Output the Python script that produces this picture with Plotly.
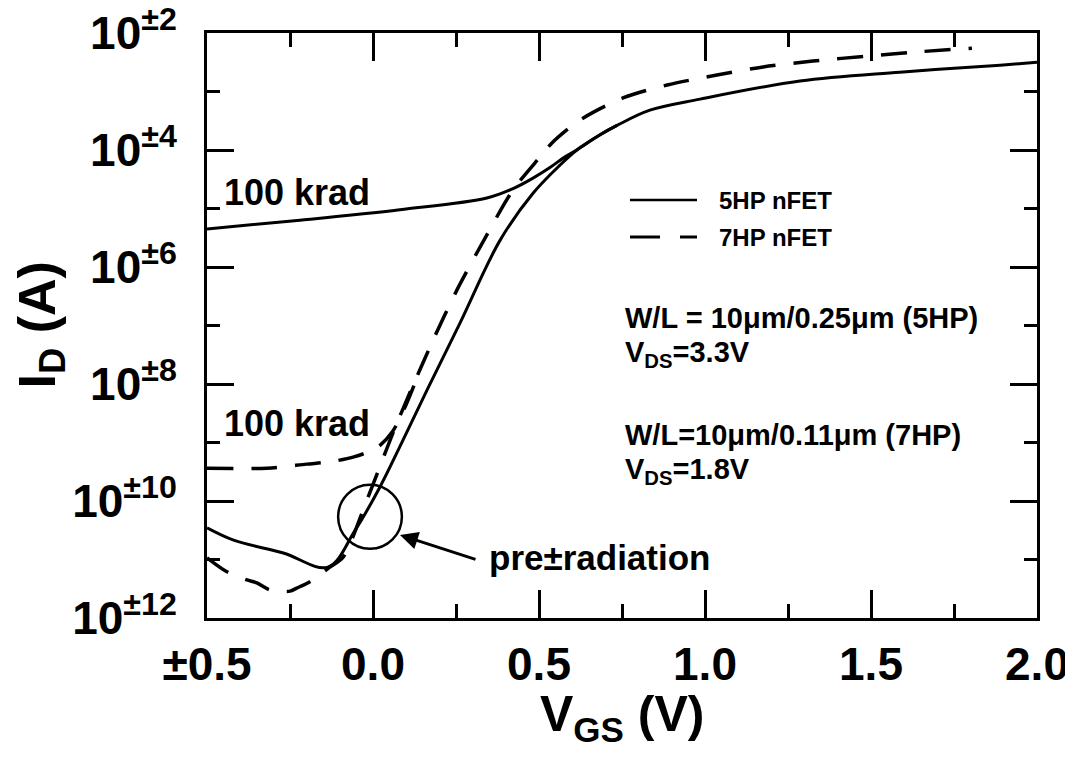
import plotly.graph_objects as go

# ---------------- data ----------------
# 5HP nFET, pre-radiation (solid)
v_5hp_pre = [-0.50, -0.42, -0.27, -0.136, -0.054, 0.021, 0.086, 0.163, 0.262, 0.383,
             0.482, 0.563, 0.614, 0.684, 0.735, 0.834, 0.985, 1.286, 1.587, 1.889, 2.0]
i_5hp_pre = [3.47e-11, 2.14e-11, 1.29e-11, 7.41e-12, 3.16e-11, 1.74e-10, 9.77e-10, 7.94e-9,
             1.10e-7, 2.88e-6, 1.82e-5, 5.50e-5, 1.0e-4, 1.82e-4, 2.63e-4, 4.79e-4, 7.41e-4,
             1.51e-3, 2.14e-3, 2.82e-3, 3.16e-3]

# 5HP nFET, 100 krad (solid)
v_5hp_100k = [-0.50, -0.22, 0.081, 0.343, 0.422, 0.482, 0.533, 0.575, 0.614, 0.684, 0.735]
i_5hp_100k = [4.47e-6, 6.31e-6, 9.55e-6, 1.51e-5, 2.19e-5, 3.31e-5, 5.01e-5, 7.41e-5,
              1.0e-4, 1.82e-4, 2.63e-4]

# 7HP nFET, pre-radiation (dashed)
v_7hp_pre = [-0.50, -0.44, -0.38, -0.35, -0.31, -0.25, -0.23, -0.19, -0.13, -0.09, -0.018,
             0.060, 0.111, 0.181, 0.253, 0.343, 0.422, 0.503, 0.539, 0.623, 0.753, 0.886,
             1.036, 1.175, 1.325, 1.497, 1.648, 1.804]
i_7hp_pre = [1.07e-11, 6.17e-12, 4.47e-12, 3.98e-12, 3.02e-12, 2.88e-12, 3.24e-12, 4.17e-12,
             7.41e-12, 1.10e-11, 1.05e-10, 1.45e-9, 7.08e-9, 5.62e-8, 4.07e-7, 3.55e-6,
             2.09e-5, 7.59e-5, 1.32e-4, 3.24e-4, 7.76e-4, 1.29e-3, 1.91e-3, 2.63e-3,
             3.31e-3, 4.07e-3, 4.79e-3, 5.50e-3]

# 7HP nFET, 100 krad (dashed)
v_7hp_100k = [-0.50, -0.32, -0.20, -0.13, -0.06, 0.012, 0.06, 0.10, 0.13]
i_7hp_100k = [3.63e-10, 3.63e-10, 4.27e-10, 4.68e-10, 5.62e-10, 8.13e-10, 1.58e-9, 4.47e-9, 1.17e-8]

# axis ticks
x_tick_vals = [-0.5, 0.0, 0.5, 1.0, 1.5, 2.0]
x_tick_text = ["±0.5", "0.0", "0.5", "1.0", "1.5", "2.0"]
x_minor_vals = [-0.25, 0.25, 0.75, 1.25, 1.75]
y_tick_vals = [1e-12, 1e-10, 1e-8, 1e-6, 1e-4, 1e-2]
y_tick_text = ["10<sup>±12</sup>", "10<sup>±10</sup>", "10<sup>±8</sup>",
               "10<sup>±6</sup>", "10<sup>±4</sup>", "10<sup>±2</sup>"]
y_minor_vals = [1e-11, 1e-9, 1e-7, 1e-5, 1e-3]

# circle annotation around the pre-radiation crossing (data units)
circle_x = [-0.105, 0.087]
circle_y = [1.52e-11, 1.89e-10]

SANS = "Liberation Sans, Arial, Helvetica, sans-serif"
DASH = "26px,18px"

fig = go.Figure()

fig.add_trace(go.Scatter(x=v_5hp_pre, y=i_5hp_pre, mode="lines", name="5HP nFET",
                         line=dict(color="black", width=3, shape="spline", smoothing=1.0),
                         showlegend=False))
fig.add_trace(go.Scatter(x=v_5hp_100k, y=i_5hp_100k, mode="lines", name="5HP nFET 100 krad",
                         line=dict(color="black", width=3, shape="spline", smoothing=1.0),
                         showlegend=False))
fig.add_trace(go.Scatter(x=v_7hp_pre, y=i_7hp_pre, mode="lines", name="7HP nFET",
                         line=dict(color="black", width=3.5, dash=DASH, shape="spline", smoothing=0.8),
                         showlegend=False))
fig.add_trace(go.Scatter(x=v_7hp_100k, y=i_7hp_100k, mode="lines", name="7HP nFET 100 krad",
                         line=dict(color="black", width=3.5, dash=DASH, shape="spline", smoothing=0.8),
                         showlegend=False))

# helper: pixel -> paper
PL, PR, PT, PB = 207, 1037, 33, 618
def px(xp):
    return (xp - PL) / (PR - PL)
def py(yp):
    return (PB - yp) / (PB - PT)

shapes = [
    dict(type="circle", xref="x", yref="y", x0=circle_x[0], x1=circle_x[1],
         y0=circle_y[0], y1=circle_y[1], line=dict(color="black", width=2.5)),
    # legend samples
    dict(type="line", xref="paper", yref="paper", x0=px(630), x1=px(697), y0=py(200), y1=py(200),
         line=dict(color="black", width=2.5)),
    dict(type="line", xref="paper", yref="paper", x0=px(630), x1=px(697), y0=py(237), y1=py(237),
         line=dict(color="black", width=3, dash="30px,20px")),
]

def txt(text, x, y, size, xref="paper", yref="paper", xanchor="left", angle=0):
    return dict(text=text, x=x, y=y, xref=xref, yref=yref, xanchor=xanchor, yanchor="middle",
                textangle=angle, showarrow=False,
                font=dict(family=SANS, size=size, color="black", weight="bold"))

annotations = [
    txt("100 krad", -0.455, -4.72, 36, "x", "y"),
    txt("100 krad", -0.455, -8.67, 36, "x", "y"),
    txt("pre±radiation", 0.3434, -10.97, 35, "x", "y"),
    dict(text="", x=0.0813, y=-10.58, xref="x", yref="y", ax=77, ay=25, showarrow=True,
         arrowhead=2, arrowsize=1.2, arrowwidth=3, arrowcolor="black", standoff=0),
    txt("5HP nFET", px(717), py(200), 24),
    txt("7HP nFET", px(717), py(237), 24),
    txt("W/L = 10μm/0.25μm (5HP)", px(623), py(318), 29),
    txt("V<sub>DS</sub>=3.3V", px(623), py(354), 29),
    txt("W/L=10μm/0.11μm (7HP)", px(623), py(435), 29),
    txt("V<sub>DS</sub>=1.8V", px(623), py(471), 29),
    # axis titles
    txt("V<sub>GS</sub> (V)", 0.5, py(717), 50, xanchor="center"),
    txt("I<sub>D</sub> (A)", px(40), 0.5, 52, xanchor="center", angle=-90),
]

fig.update_layout(
    width=1065, height=759, autosize=False,
    margin=dict(l=PL, r=1065 - PR, t=PT, b=759 - PB, pad=0, autoexpand=False),
    plot_bgcolor="white", paper_bgcolor="white",
    shapes=shapes, annotations=annotations, showlegend=False,
    xaxis=dict(range=[-0.5, 2.0], tickmode="array", tickvals=x_tick_vals, ticktext=x_tick_text,
               ticks="inside", ticklen=28, tickwidth=2.5, tickcolor="black",
               showline=True, linewidth=3, linecolor="black", mirror="ticks", automargin=False,
               showgrid=False, zeroline=False, ticklabelstandoff=4, ticklabeloverflow="allow",
               tickfont=dict(family=SANS, size=46, color="black", weight="bold"),
               minor=dict(tickmode="array", tickvals=x_minor_vals, ticks="inside", ticklen=14,
                          tickwidth=2.5, tickcolor="black", showgrid=False)),
    yaxis=dict(type="log", range=[-12, -2], tickmode="array", tickvals=y_tick_vals, ticktext=y_tick_text,
               ticks="inside", ticklen=27, tickwidth=2.5, tickcolor="black",
               showline=True, linewidth=3, linecolor="black", mirror="ticks", automargin=False,
               showgrid=False, zeroline=False, ticklabelstandoff=18, ticklabeloverflow="allow",
               tickfont=dict(family=SANS, size=46, color="black", weight="bold"),
               minor=dict(tickmode="array", tickvals=y_minor_vals, ticks="inside", ticklen=13,
                          tickwidth=2.5, tickcolor="black", showgrid=False)),
)

fig.write_html("out.html")
